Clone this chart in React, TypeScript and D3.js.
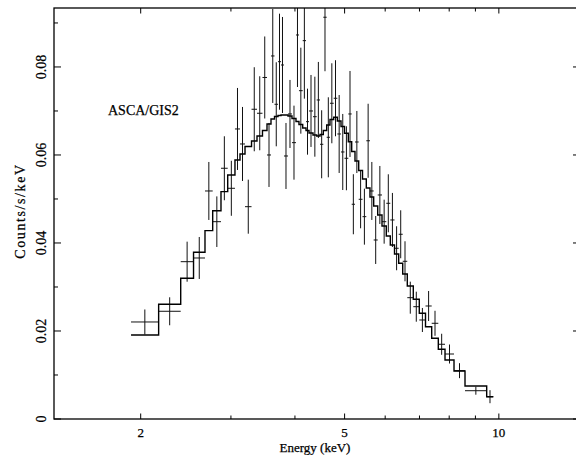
import React from "react";
import * as d3 from "d3";

// Energy bin edges (keV)
const binEdges = [1.915, 2.168, 2.394, 2.536, 2.670, 2.764, 2.869, 2.957, 3.055, 3.125, 3.196, 3.291, 3.373, 3.457, 3.528, 3.592, 3.649, 3.707, 3.757, 3.808, 3.877, 3.947, 4.019, 4.073, 4.142, 4.204, 4.261, 4.338, 4.411, 4.477, 4.544, 4.613, 4.682, 4.761, 4.839, 4.920, 4.998, 5.084, 5.162, 5.239, 5.327, 5.419, 5.512, 5.604, 5.698, 5.802, 5.915, 6.030, 6.140, 6.257, 6.376, 6.492, 6.627, 6.808, 6.994, 7.192, 7.395, 7.618, 7.851, 8.175, 8.589, 9.468, 9.753];

// Observed count rate (counts/s/keV)
const counts = [0.02205, 0.02448, 0.03575, 0.03659, 0.05182, 0.04484, 0.05698, 0.05243, 0.06591, 0.06250, 0.04825, 0.07039, 0.06948, 0.07761, 0.06000, 0.08250, 0.07152, 0.08120, 0.08045, 0.05977, 0.06932, 0.06280, 0.08727, 0.07461, 0.08598, 0.06757, 0.07000, 0.06870, 0.07250, 0.06243, 0.09130, 0.06402, 0.07175, 0.07289, 0.06477, 0.06068, 0.05925, 0.06932, 0.04880, 0.06295, 0.04993, 0.04598, 0.06323, 0.05182, 0.04068, 0.05091, 0.04484, 0.04902, 0.04523, 0.03880, 0.04198, 0.03584, 0.02757, 0.02552, 0.02250, 0.02568, 0.02175, 0.01698, 0.01477, 0.01098, 0.00643, 0.00507];

// 1-sigma errors
const errors = [0.00284, 0.00318, 0.00455, 0.00477, 0.00659, 0.00575, 0.00727, 0.00625, 0.00932, 0.00841, 0.00614, 0.00955, 0.00841, 0.00932, 0.00727, 0.01068, 0.00955, 0.01091, 0.01091, 0.0075, 0.00773, 0.00841, 0.01182, 0.00977, 0.01318, 0.0075, 0.00818, 0.00909, 0.00864, 0.00773, 0.01227, 0.00909, 0.00909, 0.00864, 0.00886, 0.00864, 0.00727, 0.00977, 0.00682, 0.00705, 0.00659, 0.00636, 0.00841, 0.00659, 0.00545, 0.00659, 0.005, 0.00659, 0.00614, 0.005, 0.00545, 0.00455, 0.00364, 0.00341, 0.00273, 0.00341, 0.00284, 0.00239, 0.00216, 0.0017, 0.00091, 0.00148];

// Folded model
const model = [0.01909, 0.02607, 0.03198, 0.03789, 0.04280, 0.04734, 0.05166, 0.05545, 0.05886, 0.06023, 0.06193, 0.06318, 0.06432, 0.06557, 0.06705, 0.06818, 0.06875, 0.06898, 0.06909, 0.06909, 0.06886, 0.06830, 0.06761, 0.06693, 0.06614, 0.06557, 0.06500, 0.06455, 0.06432, 0.06466, 0.06557, 0.06682, 0.06807, 0.06857, 0.06773, 0.06648, 0.06493, 0.06302, 0.06080, 0.05864, 0.05648, 0.05455, 0.05250, 0.05045, 0.04841, 0.04636, 0.04386, 0.04159, 0.03955, 0.03750, 0.03539, 0.03295, 0.03023, 0.02720, 0.02402, 0.02098, 0.01834, 0.01584, 0.01341, 0.01091, 0.0075, 0.00507];

const xMajorTicks = [2, 5, 10];
const xMinorTicks = [3, 4, 6, 7, 8, 9];
const yMajorTicks = [0, 0.02, 0.04, 0.06, 0.08];
const yMinorTicks = [0.01, 0.03, 0.05, 0.07, 0.09];
const yTickLabels = ["0", "0.02", "0.04", "0.06", "0.08"];

const W = 576, H = 455;
const L = 54, R = 580, T = 8, B = 419;
const FONT = "'Liberation Serif', serif";

export default function App() {
  const x = d3.scaleLog().domain([1.3547, 14.4]).range([L, R]);
  const y = d3.scaleLinear().domain([0, 0.0934]).range([B, T]);

  const stepPts: [number, number][] = model.map((m, i) => [binEdges[i], m] as [number, number]);
  stepPts.push([binEdges[binEdges.length - 1], model[model.length - 1]]);
  const stepLine = d3.line<[number, number]>()
    .x((d) => x(d[0]))
    .y((d) => y(d[1]))
    .curve(d3.curveStepAfter);

  const xMajLen = 5.5, xMinLen = 3.5, yMajLen = 7, yMinLen = 4;

  return (
    <svg width={W} height={H} style={{ position: "absolute", left: 0, top: 0, background: "#fff" }}
      fontFamily={FONT}>
      <defs>
        <clipPath id="plot">
          <rect x={L} y={T} width={R - L} height={B - T} />
        </clipPath>
      </defs>
      <rect x={0} y={0} width={W} height={H} fill="#fff" />
      <g clipPath="url(#plot)" stroke="#111" fill="none">
        {counts.map((c, i) => {
          const lo = binEdges[i], hi = binEdges[i + 1];
          const xc = x(Math.sqrt(lo * hi));
          return (
            <g key={i} strokeWidth={1}>
              <line x1={x(lo)} x2={x(hi)} y1={y(c)} y2={y(c)} />
              <line x1={xc} x2={xc} y1={y(c - errors[i])} y2={y(c + errors[i])} />
            </g>
          );
        })}
        <path d={stepLine(stepPts) || ""} stroke="#000" strokeWidth={1.4} />
      </g>
      {/* frame */}
      <rect x={L} y={T} width={R - L} height={B - T} fill="none" stroke="#000" strokeWidth={1.3} />
      {/* ticks */}
      <g stroke="#000" strokeWidth={1}>
        {xMajorTicks.map((t) => (
          <g key={"xM" + t}>
            <line x1={x(t)} x2={x(t)} y1={B} y2={B - xMajLen} />
            <line x1={x(t)} x2={x(t)} y1={T} y2={T + xMajLen} />
          </g>
        ))}
        {xMinorTicks.map((t) => (
          <g key={"xm" + t}>
            <line x1={x(t)} x2={x(t)} y1={B} y2={B - xMinLen} />
            <line x1={x(t)} x2={x(t)} y1={T} y2={T + xMinLen} />
          </g>
        ))}
        {yMajorTicks.map((t) => (
          <g key={"yM" + t}>
            <line x1={L} x2={L + yMajLen} y1={y(t)} y2={y(t)} />
            <line x1={R} x2={R - yMajLen} y1={y(t)} y2={y(t)} />
          </g>
        ))}
        {yMinorTicks.map((t) => (
          <g key={"ym" + t}>
            <line x1={L} x2={L + yMinLen} y1={y(t)} y2={y(t)} />
            <line x1={R} x2={R - yMinLen} y1={y(t)} y2={y(t)} />
          </g>
        ))}
      </g>
      {/* labels */}
      <g fill="#000" stroke="#000" strokeWidth={0.25}>
        {xMajorTicks.map((t) => (
          <text key={"xl" + t} x={x(t)} y={437} textAnchor="middle" fontSize={13}>{t}</text>
        ))}
        {yMajorTicks.map((t, i) => (
          <text key={"yl" + t} transform={`translate(46,${y(t)}) rotate(-90)`} textAnchor="middle" fontSize={14}>{yTickLabels[i]}</text>
        ))}
        <text x={315} y={452} textAnchor="middle" fontSize={13}>Energy (keV)</text>
        <text transform={`translate(25,211) rotate(-90)`} textAnchor="middle" fontSize={14} letterSpacing={1.6}>Counts/s/keV</text>
        <text x={108} y={115} fontSize={14}>ASCA/GIS2</text>
      </g>
    </svg>
  );
}
